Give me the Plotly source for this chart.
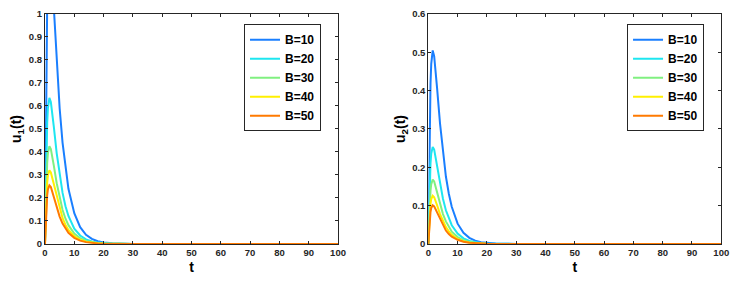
import plotly.graph_objects as go

t = [0, 0.25, 0.5, 0.75, 1, 1.5, 2, 2.5, 3, 4, 5, 6, 7, 8, 10, 12, 14, 16, 18, 20, 23, 26, 30, 100]

labels = ["B=10", "B=20", "B=30", "B=40", "B=50"]
colors = ["#1a7fff", "#1ee6f0", "#80f080", "#fff000", "#ff7a00"]

u1_B10 = [0, 0.50, 0.84, 1.05, 1.18, 1.27, 1.23, 1.14, 1.02, 0.79, 0.59, 0.44, 0.33, 0.24, 0.134, 0.073, 0.040, 0.022, 0.012, 0.0067, 0.0027, 0.0011, 0.0004, 0]
u1_B20 = [0, 0.251, 0.420, 0.527, 0.591, 0.635, 0.617, 0.568, 0.511, 0.394, 0.297, 0.222, 0.164, 0.122, 0.067, 0.037, 0.020, 0.011, 0.006, 0.0034, 0.0013, 0.0006, 0.0002, 0]
u1_B30 = [0, 0.168, 0.281, 0.353, 0.396, 0.425, 0.413, 0.380, 0.342, 0.264, 0.198, 0.148, 0.110, 0.082, 0.045, 0.025, 0.0135, 0.0074, 0.004, 0.0023, 0.0009, 0.0004, 0.0001, 0]
u1_B40 = [0, 0.127, 0.212, 0.266, 0.298, 0.320, 0.311, 0.286, 0.257, 0.199, 0.149, 0.112, 0.083, 0.061, 0.034, 0.0185, 0.0102, 0.0056, 0.003, 0.0017, 0.0007, 0.0003, 0.0001, 0]
u1_B50 = [0, 0.101, 0.169, 0.212, 0.237, 0.255, 0.248, 0.228, 0.205, 0.158, 0.119, 0.089, 0.066, 0.049, 0.027, 0.0147, 0.0081, 0.0044, 0.0024, 0.0014, 0.0005, 0.0002, 0.0001, 0]

u2_B10 = [0, 0.200, 0.334, 0.419, 0.470, 0.505, 0.490, 0.452, 0.406, 0.314, 0.236, 0.176, 0.131, 0.097, 0.053, 0.029, 0.016, 0.0088, 0.0048, 0.0027, 0.0011, 0.0005, 0.0002, 0]
u2_B20 = [0, 0.100, 0.167, 0.210, 0.236, 0.253, 0.246, 0.226, 0.203, 0.157, 0.118, 0.088, 0.066, 0.049, 0.027, 0.0146, 0.008, 0.0044, 0.0024, 0.0013, 0.0005, 0.0002, 0.0001, 0]
u2_B30 = [0, 0.067, 0.111, 0.139, 0.156, 0.168, 0.163, 0.150, 0.135, 0.104, 0.078, 0.059, 0.044, 0.032, 0.018, 0.0097, 0.0053, 0.0029, 0.0016, 0.0009, 0.0004, 0.0002, 0, 0]
u2_B40 = [0, 0.050, 0.083, 0.105, 0.117, 0.126, 0.122, 0.113, 0.101, 0.078, 0.059, 0.044, 0.033, 0.024, 0.013, 0.0073, 0.004, 0.0022, 0.0012, 0.0007, 0.0003, 0.0001, 0, 0]
u2_B50 = [0, 0.040, 0.067, 0.084, 0.094, 0.101, 0.098, 0.090, 0.081, 0.063, 0.047, 0.035, 0.026, 0.019, 0.011, 0.0058, 0.0032, 0.0018, 0.001, 0.0005, 0.0002, 0.0001, 0, 0]

x_ticks = [0, 10, 20, 30, 40, 50, 60, 70, 80, 90, 100]
y1_ticks = [0, 0.1, 0.2, 0.3, 0.4, 0.5, 0.6, 0.7, 0.8, 0.9, 1]
y1_ticktext = ["0", "0.1", "0.2", "0.3", "0.4", "0.5", "0.6", "0.7", "0.8", "0.9", "1"]
y2_ticks = [0, 0.1, 0.2, 0.3, 0.4, 0.5, 0.6]
y2_ticktext = ["0", "0.1", "0.2", "0.3", "0.4", "0.5", "0.6"]

u1_series = [u1_B10, u1_B20, u1_B30, u1_B40, u1_B50]
u2_series = [u2_B10, u2_B20, u2_B30, u2_B40, u2_B50]

FONT = "Liberation Sans, Arial, sans-serif"
AX = "#262626"

fig = go.Figure()
for lab, col, ys in zip(labels, colors, u1_series):
    fig.add_trace(go.Scatter(x=t, y=ys, mode="lines", name=lab,
                             line=dict(color=col, width=2),
                             xaxis="x", yaxis="y", legend="legend"))
for lab, col, ys in zip(labels, colors, u2_series):
    fig.add_trace(go.Scatter(x=t, y=ys, mode="lines", name=lab,
                             line=dict(color=col, width=2),
                             xaxis="x2", yaxis="y2", legend="legend2"))

tickfont = dict(family=FONT, size=9.5, color=AX, weight="bold")
titlefont = dict(family=FONT, size=14, color="#000000", weight="bold")

def xaxis(dom, anchor):
    return dict(domain=dom, anchor=anchor, range=[0, 100], tickvals=x_ticks,
                showline=True, linecolor=AX, linewidth=1, mirror="ticks",
                ticks="inside", ticklen=3, tickcolor=AX, showgrid=False,
                zeroline=False, tickfont=tickfont, automargin=False,
                title=dict(text="t", font=titlefont, standoff=4))

def yaxis(rng, tv, tt, anchor, title):
    return dict(domain=[0.1439, 0.9509], anchor=anchor, range=rng,
                tickvals=tv, ticktext=tt, automargin=False,
                showline=True, linecolor=AX, linewidth=1, mirror="ticks",
                ticks="inside", ticklen=3, tickcolor=AX, showgrid=False,
                zeroline=False, tickfont=tickfont,
                title=dict(text=title, font=titlefont, standoff=3))

legend_common = dict(bgcolor="white", bordercolor=AX, borderwidth=1,
                     font=dict(family=FONT, size=12, color="#000000", weight="bold"),
                     xanchor="right", yanchor="top", itemwidth=30,
                     tracegroupgap=0)

fig.update_layout(
    width=740, height=285,
    margin=dict(l=0, r=0, t=0, b=0),
    paper_bgcolor="white", plot_bgcolor="white",
    showlegend=True,
    xaxis=xaxis([0.0608, 0.4568], "y"),
    yaxis=yaxis([0, 1], y1_ticks, y1_ticktext, "x", "u<sub>1</sub>(t)"),
    xaxis2=xaxis([0.5788, 0.9747], "y2"),
    yaxis2=yaxis([0, 0.6], y2_ticks, y2_ticktext, "x2", "u<sub>2</sub>(t)"),
    legend=dict(x=0.4338, y=0.915, **legend_common),
    legend2=dict(x=0.9514, y=0.915, **legend_common),
)

fig.write_html("out.html", config={"displayModeBar": False},
               post_script="document.body.style.margin='0';document.body.style.overflow='hidden';")
